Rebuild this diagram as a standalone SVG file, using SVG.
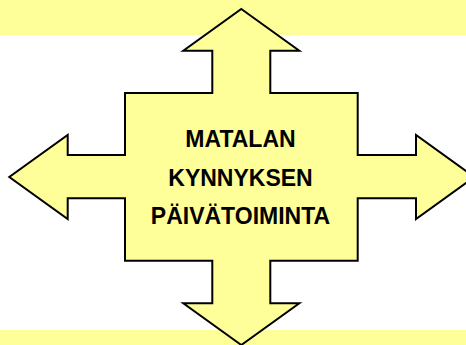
<svg xmlns="http://www.w3.org/2000/svg" width="466" height="345" viewBox="0 0 466 345">
<style>
.band{fill:#FFFF99;stroke:none}
.shape{fill:#FFFF99;stroke:#000;stroke-width:2;stroke-linejoin:miter}
.lbl{font-family:"Liberation Sans",Arial,sans-serif;font-weight:bold;font-size:23px;fill:#000;text-anchor:middle}
</style>
<rect width="466" height="345" fill="#fff"/>
<rect class="band" x="0" y="0" width="466" height="35"/>
<rect class="band" x="0" y="330" width="466" height="15"/>
<g id="node-center">
<path class="shape" d="M241.3,9 L299.3,50.7 L270.3,50.7 L270.3,93 L357.7,93 L357.7,155 L416,155 L416,135 L474.4,177 L416,219 L416,198.3 L357.7,198.3 L357.7,260.7 L270.3,260.7 L270.3,303.3 L299.3,303.3 L241.3,345 L183.3,303.3 L212.3,303.3 L212.3,260.7 L125,260.7 L125,198.3 L67.7,198.3 L67.7,219 L9.3,177 L67.7,135 L67.7,155 L125,155 L125,93 L212.3,93 L212.3,50.7 L183.3,50.7 Z"/>
<text class="lbl" x="240.5" y="147">MATALAN</text>
<text class="lbl" x="240.5" y="186">KYNNYKSEN</text>
<text class="lbl" x="240.5" y="224">PÄIVÄTOIMINTA</text>
</g>
<g id="connectors"/>
</svg>
